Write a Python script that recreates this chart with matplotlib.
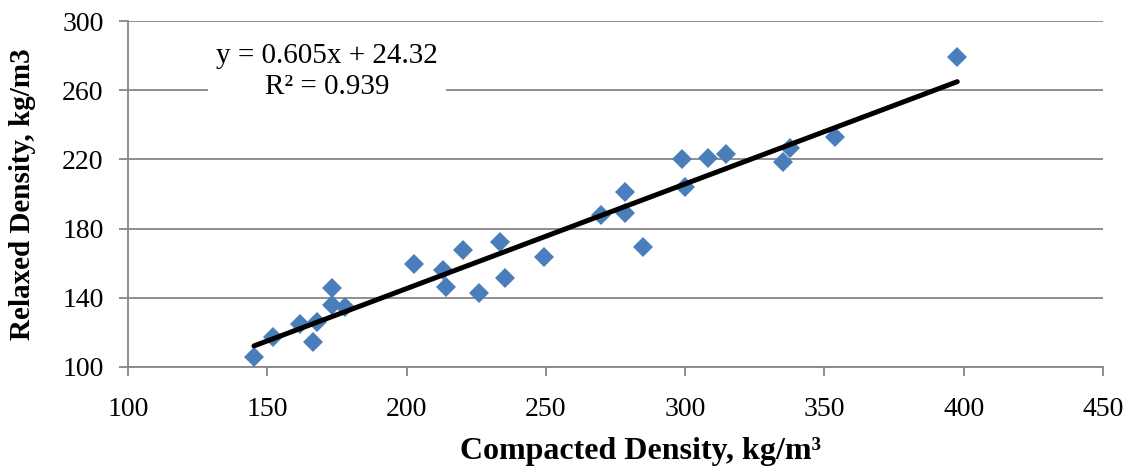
import numpy as np
from matplotlib import pyplot as plt

# compacted vs relaxed density
compacted = [145.2, 151.9, 161.7, 166.3, 167.7, 173.2, 173.2, 178.0,
             202.8, 213.2, 214.1, 220.4, 226.1, 233.5, 235.3, 249.3,
             269.7, 278.4, 278.4, 285.0, 298.7, 300.1, 308.2, 314.5,
             335.2, 337.8, 353.9, 397.7]
relaxed = [105.6, 117.2, 124.7, 114.6, 125.8, 145.5, 135.8, 134.9,
           159.5, 156.1, 146.1, 167.6, 142.9, 172.4, 151.3, 163.8,
           187.9, 201.3, 189.3, 169.2, 220.0, 203.9, 221.0, 223.1,
           218.3, 226.4, 233.1, 279.4]

# linear trendline as reported on the chart
slope = 0.605
intercept = 24.32
r_squared = 0.939

x_ticks = [100, 150, 200, 250, 300, 350, 400, 450]
y_ticks = [100, 140, 180, 220, 260, 300]

plt.rcParams['font.family'] = ['Liberation Serif', 'DejaVu Serif']

fig = plt.figure(figsize=(11.31, 4.72), dpi=100)
ax = fig.add_axes([0.1132, 0.2225, 0.862, 0.733])

grid_col = '#868686'
ax.set_xlim(100, 450)
ax.set_ylim(100, 300)
ax.set_xticks(x_ticks)
ax.set_yticks(y_ticks)
ax.yaxis.grid(True, color=grid_col, linewidth=1.3)
ax.set_axisbelow(True)
for s in ['top', 'right']:
    ax.spines[s].set_visible(False)
for s in ['left', 'bottom']:
    ax.spines[s].set_color(grid_col)
    ax.spines[s].set_linewidth(1.3)
ax.tick_params(axis='both', colors=grid_col, length=6.5, width=1.3,
               labelsize=20, labelcolor='black')
ax.tick_params(axis='x', pad=15)
ax.tick_params(axis='y', pad=11)

ax.plot(compacted, relaxed, linestyle='none', marker='D', markersize=10,
        color='#4a7ebb', markeredgewidth=0, zorder=3)

# trendline over the data range
xs = np.array([min(compacted), max(compacted)])
ax.plot(xs, slope * xs + intercept, color='black', linewidth=3.6,
        solid_capstyle='round', zorder=4)

ax.text(171.4, 271, 'y = {0}x + {1}\nR² = {2}'.format(slope, intercept, r_squared),
        ha='center', va='center', fontsize=21, linespacing=1.25,
        bbox=dict(facecolor='white', edgecolor='none', pad=6), zorder=5)

ax.set_xlabel('Compacted Density, kg/m³', fontsize=23, fontweight='bold')
ax.xaxis.set_label_coords(0.526, -0.202)
ax.set_ylabel('Relaxed Density, kg/m3', fontsize=21, fontweight='bold')
ax.yaxis.label.set_va('center')
ax.yaxis.set_label_coords(-0.108, 0.5)

fig.savefig('out.png', dpi=100)
